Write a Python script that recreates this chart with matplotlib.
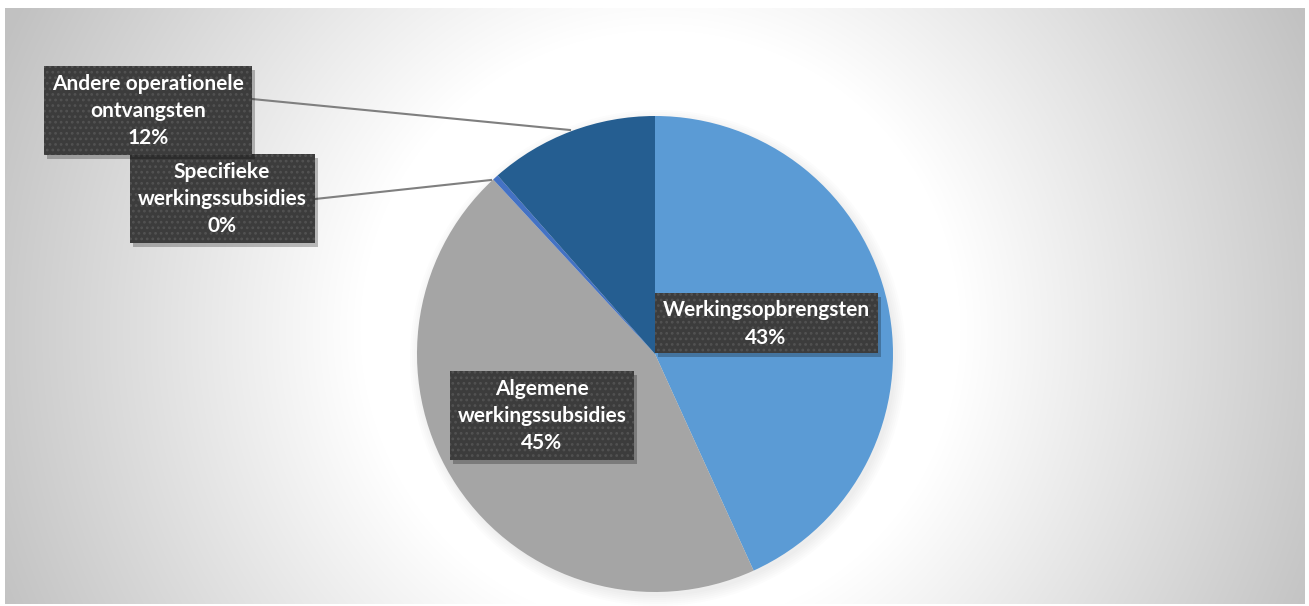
import numpy as np
import matplotlib.pyplot as plt
from matplotlib.patches import Rectangle

# data (share of total, %)
categories = ["Werkingsopbrengsten", "Algemene\nwerkingssubsidies",
              "Specifieke\nwerkingssubsidies", "Andere operationele\nontvangsten"]
values = [43.2, 44.9, 0.4, 11.5]
colors = ["#5B9BD5", "#A5A5A5", "#4472C4", "#255E91"]

# label box centres / sizes (pixels) and leader line targets
box_pos = [(766, 323, 223, 60), (542, 415, 184, 89), (222, 198, 185, 89), (148, 110, 208, 89)]
leader = [None, None, ((315, 199), (491, 180)), ((252, 99), (570, 130))]

W, H = 1309, 606
fig = plt.figure(figsize=(W / 100, H / 100), dpi=100)
ax = fig.add_axes([0, 0, 1, 1])

# radial gradient background panel
yy, xx = np.mgrid[8:604, 5:1305]
d = np.hypot(xx - 660, yy - 330)
t = np.clip((d - 300) / 420, 0, 1)
g = (255 - 62 * t) / 255
ax.imshow(np.dstack([g, g, g]), extent=(5, 1305, 604, 8), zorder=0, interpolation="bilinear")

# soft shadow under the pie
for k in range(6):
    c = plt.Circle((658, 358), 238 + 2 * k, color="k", alpha=0.012, lw=0, zorder=1)
    ax.add_patch(c)

wedges, _ = ax.pie(values, colors=colors, startangle=-90, counterclock=True,
                   center=(655, 354), radius=238, frame=True,
                   wedgeprops=dict(linewidth=0))
for w in wedges:
    w.set_zorder(2)

plt.rcParams['hatch.linewidth'] = 1.2
for i, (cat, v) in enumerate(zip(categories, values)):
    cx, cy, bw, bh = box_pos[i]
    if leader[i] is not None:
        (x0, y0), (x1, y1) = leader[i]
        ax.plot([x0, x1], [y0, y1], color="#7f7f7f", lw=1.5, zorder=3)
    z = 4 + i
    ax.add_patch(Rectangle((cx - bw / 2 + 3, cy - bh / 2 + 4), bw, bh, facecolor="#000000",
                           alpha=0.25, lw=0, zorder=z))
    ax.add_patch(Rectangle((cx - bw / 2, cy - bh / 2), bw, bh, facecolor="#3c3c3c",
                           lw=0, zorder=z))
    ax.add_patch(Rectangle((cx - bw / 2, cy - bh / 2), bw, bh, facecolor="none",
                           edgecolor="#525252", hatch="...", lw=0, zorder=z))
    ax.text(cx, cy + 1, f"{cat}\n{round(v)}%", ha="center", va="center", color="white",
            fontsize=15, fontweight="bold", family="Lato", linespacing=1.45, zorder=z)

ax.set_xlim(0, W)
ax.set_ylim(H, 0)
ax.set_aspect("auto")
ax.axis("off")
fig.savefig("out.png", dpi=100, facecolor="white")
